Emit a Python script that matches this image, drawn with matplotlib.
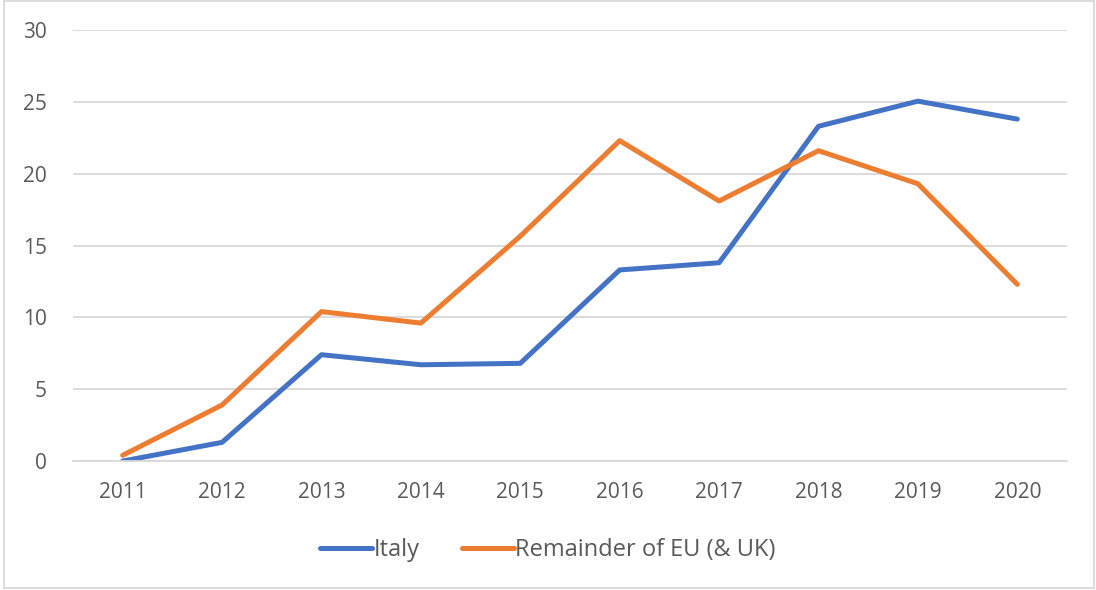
import matplotlib.pyplot as plt
from matplotlib.patches import Rectangle

years = ['2011', '2012', '2013', '2014', '2015', '2016', '2017', '2018', '2019', '2020']
italy = [0.0, 1.3, 7.4, 6.7, 6.8, 13.3, 13.8, 23.3, 25.05, 23.8]
rest_eu = [0.4, 3.9, 10.4, 9.6, 15.65, 22.3, 18.1, 21.6, 19.3, 12.3]
yticks = [0, 5, 10, 15, 20, 25, 30]

plt.rcParams['font.family'] = ['Open Sans', 'DejaVu Sans']
txt = '#595959'

fig = plt.figure(figsize=(10.96, 5.9), dpi=100)
ax = fig.add_axes([0.0666, 0.2186, 0.9069, 0.7305])

x = range(len(years))
ax.plot(x, italy, color='#4472C4', lw=3.6, solid_capstyle='round', solid_joinstyle='round', label='Italy')
ax.plot(x, rest_eu, color='#ED7D31', lw=3.6, solid_capstyle='round', solid_joinstyle='round',
        label='Remainder of EU (& UK)')

ax.set_xlim(-0.5, len(years) - 0.5)
ax.set_ylim(0, 30)
ax.set_yticks(yticks)
ax.set_xticks(list(x))
ax.set_xticklabels(years)
ax.grid(axis='y', color='#D9D9D9', lw=1.3)
ax.set_axisbelow(True)
for s in ['top', 'right', 'left']:
    ax.spines[s].set_visible(False)
ax.spines['bottom'].set_color('#D9D9D9')
ax.spines['bottom'].set_linewidth(1.3)
ax.tick_params(length=0, labelsize=15, colors=txt)
ax.tick_params(axis='y', pad=19)
ax.tick_params(axis='x', pad=15)

leg = fig.legend(loc='center', bbox_to_anchor=(0.5, 0.068), ncol=2, frameon=False,
                 fontsize=17, handlelength=2.2, handletextpad=0.05, columnspacing=1.8)
for t in leg.get_texts():
    t.set_color(txt)

fig.patches.append(Rectangle((0.004, 0.003), 0.994, 0.995, transform=fig.transFigure,
                             fill=False, edgecolor='#D9D9D9', lw=1.3))

fig.savefig('out.png', dpi=100)
